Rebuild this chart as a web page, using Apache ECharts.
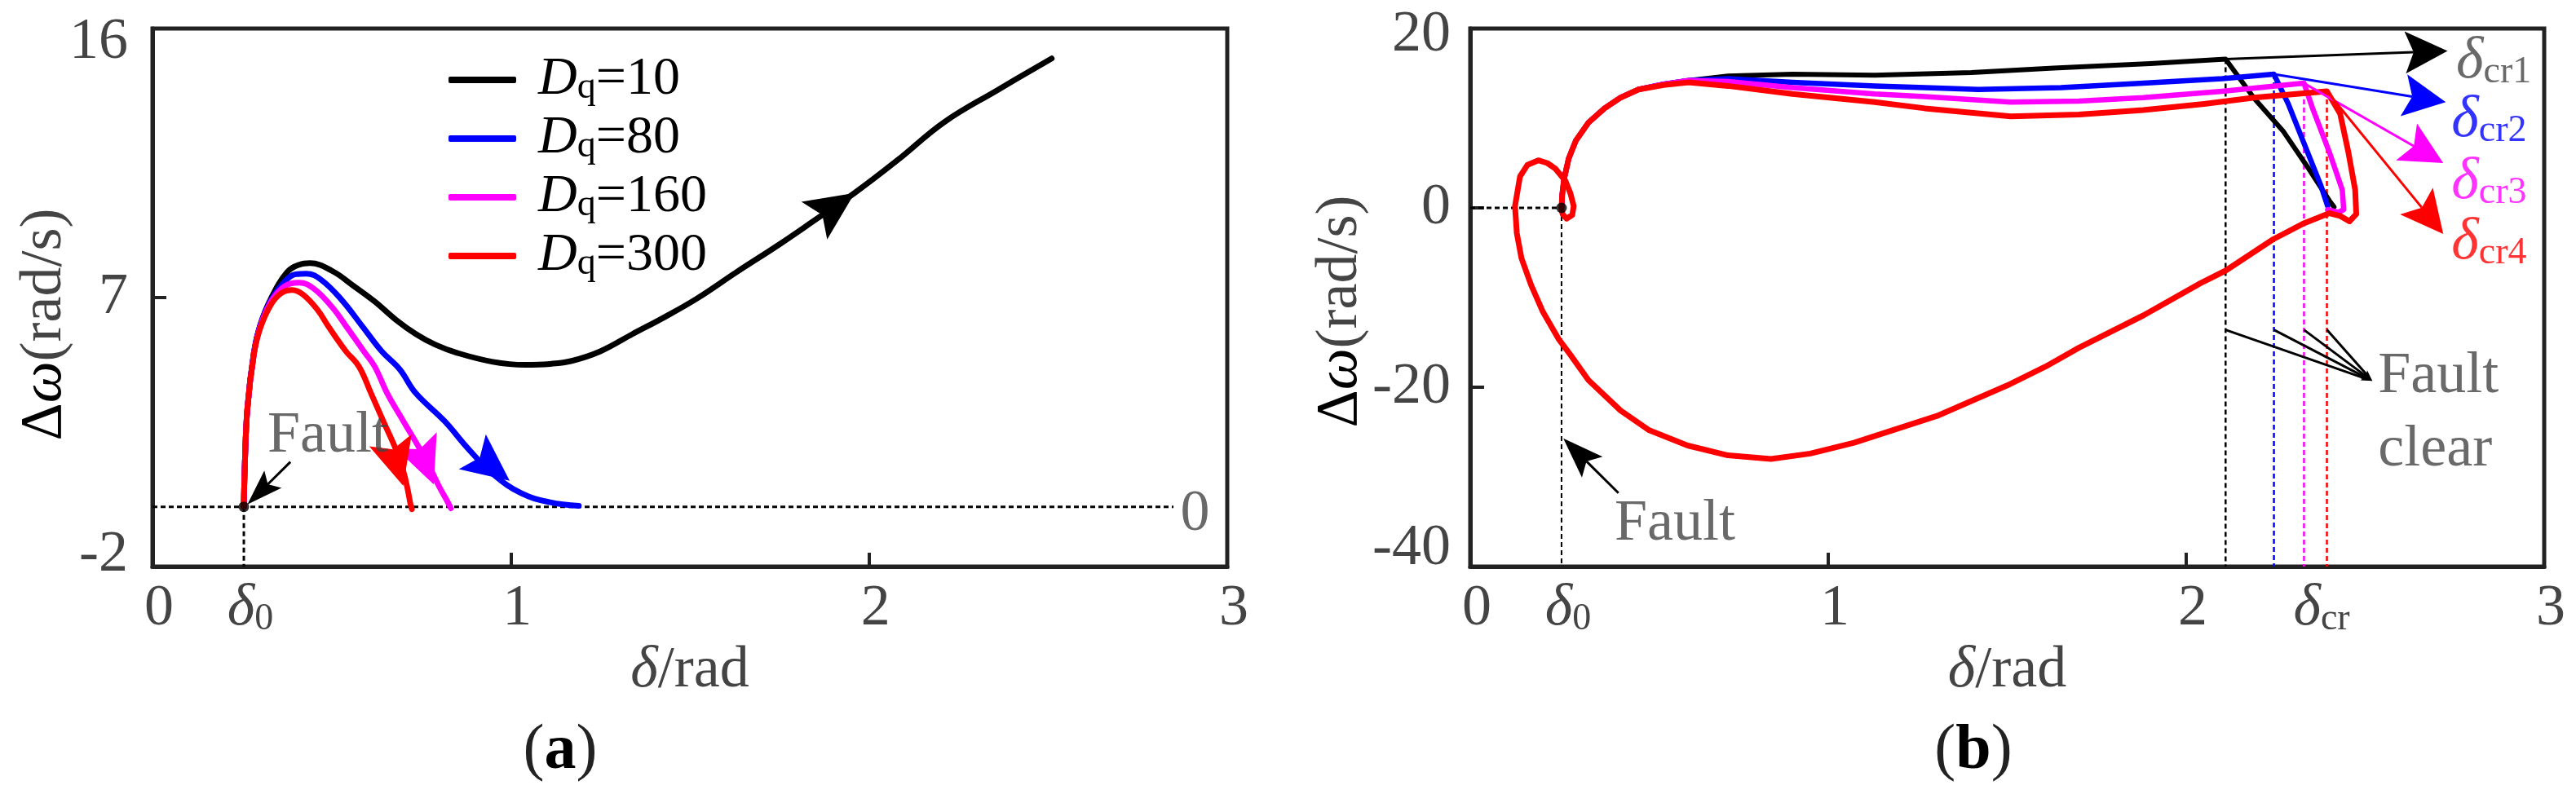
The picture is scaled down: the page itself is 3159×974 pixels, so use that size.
<!DOCTYPE html>
<html><head><meta charset="utf-8">
<script src="https://cdn.jsdelivr.net/npm/echarts@6/dist/echarts.min.js"></script>
<style>html,body{margin:0;padding:0;background:#fff}#c{width:3159px;height:974px}</style>
</head><body><div id="c"></div>
<script>
// ---------- data ----------
const D0 = 0.255;
const DCR = [2.11, 2.245, 2.329, 2.393];
const DCR_W = [16.6, 14.9, 13.9, 13.0];
const DCR_LABEL = 2.36;
const xTickValues = [0, 1, 2, 3];
const xLabelsA = [0, D0, 1, 2, 3];
const xLabelsB = [0, D0, 1, 2, DCR_LABEL, 3];
const yTicksA = [-2, 7, 16];
const yTicksB = [-40, -20, 0, 20];
const legendNames = ['Dq=10', 'Dq=80', 'Dq=160', 'Dq=300'];

const a_Dq10 = [[0.255,0],[0.258,1.5],[0.265,3.3],[0.283,5.15],[0.30,6.05],[0.33,6.95],[0.376,7.85],[0.41,8.1],[0.44,8.15],[0.503,7.88],[0.56,7.4],[0.62,6.87],[0.68,6.25],[0.735,5.78],[0.79,5.42],[0.85,5.15],[0.95,4.85],[1.04,4.75],[1.11,4.78],[1.17,4.88],[1.25,5.2],[1.34,5.78],[1.43,6.35],[1.52,6.97],[1.63,7.85],[1.75,8.78],[1.86,9.68],[1.96,10.5],[2.08,11.6],[2.21,12.87],[2.36,13.95],[2.51,15.0]];
const a_Dq80 = [[0.255,0],[0.258,1.5],[0.265,3.3],[0.283,5.15],[0.30,6.05],[0.33,6.9],[0.37,7.55],[0.40,7.78],[0.43,7.8],[0.47,7.6],[0.526,6.95],[0.585,6.05],[0.64,5.2],[0.69,4.6],[0.735,3.8],[0.815,2.87],[0.88,1.96],[0.95,1.1],[1.03,0.45],[1.11,0.15],[1.19,0.03]];
const a_Dq160 = [[0.255,0],[0.258,1.5],[0.265,3.3],[0.283,5.1],[0.30,6.0],[0.33,6.85],[0.36,7.3],[0.385,7.47],[0.41,7.5],[0.45,7.3],[0.50,6.7],[0.54,6.05],[0.59,5.2],[0.62,4.7],[0.655,3.8],[0.70,2.87],[0.745,1.96],[0.775,1.3],[0.80,0.68],[0.82,0.25],[0.833,-0.05]];
const a_Dq300 = [[0.255,0],[0.258,1.5],[0.265,3.3],[0.283,5.1],[0.30,5.95],[0.33,6.75],[0.36,7.15],[0.39,7.25],[0.42,7.1],[0.46,6.6],[0.49,6.05],[0.54,5.2],[0.576,4.7],[0.61,3.8],[0.644,2.87],[0.678,1.96],[0.70,1.2],[0.712,0.6],[0.72,0.1],[0.724,-0.08]];

const b_Dq10 = [[0.255,0],[0.257,1.5],[0.262,3.2],[0.275,5.5],[0.295,7.5],[0.33,9.5],[0.375,11.1],[0.42,12.3],[0.47,13.2],[0.54,13.8],[0.61,14.2],[0.72,14.7],[0.9,14.9],[1.13,14.8],[1.4,15.1],[1.63,15.6],[1.9,16.1],[2.11,16.6],[2.19,12.2],[2.27,8.6],[2.34,4.5],[2.40,0.8],[2.413,0.1]];
const b_Dq80 = [[0.255,0],[0.257,1.5],[0.262,3.2],[0.275,5.5],[0.295,7.5],[0.33,9.5],[0.375,11.1],[0.42,12.3],[0.47,13.2],[0.54,13.8],[0.61,14.2],[0.72,14.4],[0.9,14.0],[1.13,13.6],[1.27,13.4],[1.42,13.2],[1.65,13.4],[1.88,13.9],[2.1,14.4],[2.245,14.9],[2.285,11.6],[2.33,7.1],[2.376,2.5],[2.395,0.2]];
const b_Dq160 = [[0.255,0],[0.257,1.5],[0.262,3.2],[0.275,5.5],[0.295,7.5],[0.33,9.5],[0.375,11.1],[0.42,12.3],[0.47,13.2],[0.54,13.8],[0.61,14.2],[0.72,14.1],[0.9,13.4],[1.13,12.7],[1.27,12.4],[1.51,11.8],[1.7,11.9],[1.88,12.3],[2.1,13.0],[2.329,13.9],[2.353,11.1],[2.40,6.2],[2.436,2.0],[2.44,-0.2],[2.425,-0.5],[2.395,-0.2]];
const b_Dq300 = [[0.255,0],[0.257,1.5],[0.262,3.2],[0.275,5.5],[0.295,7.5],[0.33,9.5],[0.375,11.1],[0.42,12.3],[0.47,13.2],[0.54,13.7],[0.61,14.0],[0.72,13.6],[0.9,12.7],[1.13,11.8],[1.27,11.1],[1.51,10.2],[1.7,10.4],[1.88,10.9],[2.05,11.6],[2.19,12.3],[2.393,13.0],[2.43,10.5],[2.453,6.2],[2.472,2.0],[2.475,-0.7],[2.456,-1.5],[2.43,-0.9],[2.40,-0.6],[2.33,-1.7],[2.243,-3.5],[2.11,-7.0],[2.04,-8.4],[1.88,-12.0],[1.70,-15.6],[1.607,-17.7],[1.50,-19.8],[1.304,-23.2],[1.072,-26.2],[0.95,-27.4],[0.84,-28.0],[0.72,-27.6],[0.607,-26.5],[0.50,-24.8],[0.42,-22.6],[0.33,-19.2],[0.28,-16.4],[0.248,-14.7],[0.203,-11.6],[0.17,-8.6],[0.143,-5.6],[0.13,-2.8],[0.125,0.2],[0.139,3.5],[0.16,4.8],[0.19,5.3],[0.215,5.0],[0.237,4.4],[0.266,3.0],[0.28,1.6],[0.289,0.2],[0.285,-0.8],[0.269,-1.2],[0.258,-0.7],[0.255,-0.2]];

// arrows: [fromX, fromY, toX, toY]
const arrowsA = [[1.75,8.78,1.96,10.5],[0.88,1.96,0.997,0.87],[0.745,1.96,0.785,0.75],[0.66,2.4,0.70,0.70],[0.385,1.5,0.265,0.08]];
const arrowsB = [[2.11,16.6,2.73,17.5],[2.245,14.9,2.725,11.8],[2.329,13.9,2.718,5.0],[2.393,13.0,2.718,-2.9],[0.414,-31.8,0.26,-25.7],[2.11,-13.6,2.52,-19.3],[2.245,-13.6,2.52,-19.3],[2.329,-13.6,2.52,-19.3],[2.393,-13.6,2.52,-19.3]];

// ---------- styles ----------
const F = '"Liberation Serif", "Times New Roman", serif';
const COLORS = ['#000000', '#0000ff', '#ff00ff', '#ff0000'];
const GRAY = '#444444';
const arrowStyleA = [
  {color:COLORS[0], shaft:0, head:60, width:56},
  {color:COLORS[1], shaft:0, head:58, width:54},
  {color:COLORS[2], shaft:0, head:58, width:54},
  {color:COLORS[3], shaft:0, head:58, width:54},
  {color:'#000', shaft:3, head:44, width:30}
];
const arrowStyleB = [
  {color:COLORS[0], shaft:3, head:52, width:52},
  {color:COLORS[1], shaft:3, head:52, width:52},
  {color:COLORS[2], shaft:3, head:52, width:52},
  {color:COLORS[3], shaft:3, head:52, width:52},
  {color:'#000', shaft:3, head:50, width:36},
  {color:'#000', shaft:3, head:14, width:8},
  {color:'#000', shaft:3, head:14, width:8},
  {color:'#000', shaft:3, head:14, width:8},
  {color:'#000', shaft:3, head:14, width:8}
];

const base = {fontFamily:F, fontSize:72, lineHeight:72, color:GRAY};
const tickRich = {
  n: Object.assign({}, base),
  d: Object.assign({}, base, {fontStyle:'italic'}),
  s: Object.assign({}, base, {fontSize:46, lineHeight:36, verticalAlign:'bottom'}),
  topA: Object.assign({}, base, {padding:[34,0,0,0]}),
  botA: Object.assign({}, base, {padding:[0,0,28,0]}),
  topB: Object.assign({}, base, {padding:[16,0,0,0]}),
  botB: Object.assign({}, base, {padding:[0,0,44,0]})
};
function colorRich(c) {
  return {
    d: Object.assign({}, base, {fontStyle:'italic', color:c}),
    s: Object.assign({}, base, {fontSize:46, lineHeight:36, verticalAlign:'bottom', color:c})
  };
}
const near = (a,b) => Math.abs(a-b) < 1e-6;

function xFormatter(v) {
  if (near(v, D0)) return '{d|δ}{s|0}';
  if (near(v, DCR_LABEL)) return '{d|δ}{s|cr}';
  return '{n|' + v + '}';
}
function makeX(gi, labels) {
  return {
    type:'value', gridIndex:gi, min:0, max:3,
    axisLine:{show:true, onZero:false, lineStyle:{color:'#222', width:5}},
    axisTick:{show:true, inside:true, length:17, customValues:xTickValues, lineStyle:{color:'#222', width:4}},
    axisLabel:{show:true, customValues:labels, formatter:xFormatter, margin:16, padding:[0,0,0,16], rich:tickRich, color:GRAY, fontFamily:F, fontSize:72},
    splitLine:{show:false},
    name:'{d|δ}{n|/rad}', nameLocation:'middle', nameGap:92, nameMoveOverlap:false,
    nameTextStyle:{rich:tickRich, color:GRAY, fontFamily:F, fontSize:72}
  };
}
function makeY(gi, min, max, ticks, margin, top, bot, gap, shift) {
  return {
    type:'value', gridIndex:gi, min:min, max:max,
    axisLine:{show:true, onZero:false, lineStyle:{color:'#222', width:5}},
    axisTick:{show:true, inside:true, length:17, customValues:ticks, lineStyle:{color:'#222', width:4}},
    axisLabel:{show:true, customValues:ticks, margin:margin, rich:tickRich, color:GRAY, fontFamily:F, fontSize:72,
      formatter: v => near(v,max) ? '{'+top+'|'+v+'}' : near(v,min) ? '{'+bot+'|'+v+'}' : '{n|'+v+'}'},
    splitLine:{show:false},
    name:'{b|Δ}{w|ω}{g|(rad/s)}', nameLocation:'middle', nameGap:gap, nameMoveOverlap:false,
    nameTextStyle:{fontFamily:F, fontSize:72, padding:[0,shift,0,0], rich:{
      b:{fontFamily:F, fontSize:72, color:'#000'},
      w:{fontFamily:F, fontSize:72, color:'#000', fontStyle:'italic'},
      g:{fontFamily:F, fontSize:72, color:GRAY}}}
  };
}

function arrowSeries(gi, defs, styles) {
  return {
    type:'custom', xAxisIndex:gi, yAxisIndex:gi, z:4, silent:true, clip:false,
    data: defs.map(a => a.slice()),
    renderItem: function (params, api) {
      const st = styles[params.dataIndex];
      const p0 = api.coord([api.value(0), api.value(1)]);
      const p1 = api.coord([api.value(2), api.value(3)]);
      const dx = p1[0]-p0[0], dy = p1[1]-p0[1];
      const len = Math.hypot(dx, dy) || 1;
      const ux = dx/len, uy = dy/len, nx = -uy, ny = ux;
      const L = st.head, W = st.width/2, N = L*0.8;
      const bx = p1[0]-ux*L, by = p1[1]-uy*L;
      const children = [];
      if (st.shaft) children.push({type:'line', shape:{x1:p0[0], y1:p0[1], x2:p1[0]-ux*N, y2:p1[1]-uy*N}, style:{stroke:st.color, lineWidth:st.shaft}});
      children.push({type:'polygon', shape:{points:[[p1[0],p1[1]],[bx+nx*W,by+ny*W],[p1[0]-ux*N,p1[1]-uy*N],[bx-nx*W,by-ny*W]]}, style:{fill:st.color}});
      return {type:'group', children};
    }
  };
}
function curve(name, gi, data, color, w) {
  return {name, type:'line', xAxisIndex:gi, yAxisIndex:gi, data, symbol:'none', showSymbol:false,
    smooth: gi === 0 ? 0.4 : false, lineStyle:{color, width:w, cap:'round', join:'round'}, itemStyle:{color}, z:3, silent:true};
}
function dashed(gi, data, color, w) {
  return {type:'line', xAxisIndex:gi, yAxisIndex:gi, data, symbol:'none', silent:true, z:2,
    lineStyle:{color, width:w, type:[6,4]}};
}
function textSeries(gi, items) {
  return {type:'scatter', xAxisIndex:gi, yAxisIndex:gi, symbol:'circle', symbolSize:1,
    itemStyle:{color:'rgba(255,255,255,0)'}, silent:true, z:6,
    label:{show:true, position:'inside', fontFamily:F, fontSize:72, lineHeight:72, color:GRAY, rich:tickRich},
    labelLayout:{hideOverlap:false},
    data:items};
}

const chart = echarts.init(document.getElementById('c'));
chart.setOption({
  animation:false,
  backgroundColor:'#fff',
  textStyle:{fontFamily:F},
  grid:[
    {left:187, top:35, width:1318, height:660, show:true, borderColor:'#222', borderWidth:5, backgroundColor:'transparent', outerBoundsMode:'none'},
    {left:1803, top:35, width:1317, height:660, show:true, borderColor:'#222', borderWidth:5, backgroundColor:'transparent', outerBoundsMode:'none'}
  ],
  xAxis:[makeX(0, xLabelsA), makeX(1, xLabelsB)],
  yAxis:[makeY(0, -2, 16, yTicksA, 30, 'topA', 'botA', 96, 66), makeY(1, -40, 20, yTicksB, 24, 'topB', 'botB', 123, 34)],
  legend:{
    data:legendNames, orient:'vertical', left:545, top:60, itemWidth:83, itemHeight:8, itemGap:6, icon:'roundRect',
    selectedMode:false,
    formatter: n => '{i|D}{s|q}{n|' + n.slice(2) + '}',
    textStyle:{fontFamily:F, fontSize:66, lineHeight:66, color:'#000', padding:[0,0,0,22], rich:{
      i:{fontFamily:F, fontSize:66, lineHeight:66, color:'#000', fontStyle:'italic'},
      s:{fontFamily:F, fontSize:46, lineHeight:34, color:'#000', verticalAlign:'bottom'},
      n:{fontFamily:F, fontSize:66, lineHeight:66, color:'#000'}}}
  },
  graphic:[
    {type:'text', x:687, y:922, style:{text:'{p|(}{b|a}{p|)}', textAlign:'center', textVerticalAlign:'middle', rich:{
      p:{fontFamily:F, fontSize:78, fill:'#222'}, b:{fontFamily:F, fontSize:78, fontWeight:'bold', fill:'#000'}}}},
    {type:'text', x:2420, y:922, style:{text:'{p|(}{b|b}{p|)}', textAlign:'center', textVerticalAlign:'middle', rich:{
      p:{fontFamily:F, fontSize:78, fill:'#222'}, b:{fontFamily:F, fontSize:78, fontWeight:'bold', fill:'#000'}}}}
  ],
  series:[
    // panel a guides
    dashed(0, [[0,0],[2.85,0]], '#000', 3),
    dashed(0, [[D0,0],[D0,-2]], '#000', 3),
    // panel a curves
    curve(legendNames[0], 0, a_Dq10, COLORS[0], 7),
    curve(legendNames[1], 0, a_Dq80, COLORS[1], 7),
    curve(legendNames[2], 0, a_Dq160, COLORS[2], 7),
    curve(legendNames[3], 0, a_Dq300, COLORS[3], 7),
    arrowSeries(0, arrowsA, arrowStyleA),
    {type:'scatter', xAxisIndex:0, yAxisIndex:0, data:[[D0,0]], symbolSize:13, itemStyle:{color:'#000'}, z:7, silent:true},
    textSeries(0, [
      {value:[0.321, 2.35], label:{formatter:'Fault', align:'left'}},
      {value:[2.91, -0.27], label:{formatter:'0', align:'center'}}
    ]),
    // panel b guides
    dashed(1, [[0,0],[D0,0]], '#000', 3),
    dashed(1, [[D0,0],[D0,-40]], '#000', 2),
    dashed(1, [[DCR[0],DCR_W[0]],[DCR[0],-40]], COLORS[0], 2.5),
    dashed(1, [[DCR[1],DCR_W[1]],[DCR[1],-40]], COLORS[1], 2.5),
    dashed(1, [[DCR[2],DCR_W[2]],[DCR[2],-40]], COLORS[2], 2.5),
    dashed(1, [[DCR[3],DCR_W[3]],[DCR[3],-40]], COLORS[3], 2.5),
    // panel b curves
    curve('b' + legendNames[0], 1, b_Dq10, COLORS[0], 6),
    curve('b' + legendNames[1], 1, b_Dq80, COLORS[1], 6.5),
    curve('b' + legendNames[2], 1, b_Dq160, COLORS[2], 6.5),
    curve('b' + legendNames[3], 1, b_Dq300, COLORS[3], 7),
    arrowSeries(1, arrowsB, arrowStyleB),
    {type:'scatter', xAxisIndex:1, yAxisIndex:1, data:[[D0,0]], symbolSize:13, itemStyle:{color:'#000'}, z:7, silent:true},
    textSeries(1, [
      {value:[0.403, -35.3], label:{formatter:'Fault', align:'left'}},
      {value:[2.536, -22.9], label:{formatter:'Fault\nclear', align:'left', lineHeight:90}},
      {value:[2.754, 16.3], label:{formatter:'{d|δ}{s|cr1}', align:'left', rich:colorRich(GRAY)}},
      {value:[2.741, 9.7], label:{formatter:'{d|δ}{s|cr2}', align:'left', rich:colorRich(COLORS[1])}},
      {value:[2.741, 2.8], label:{formatter:'{d|δ}{s|cr3}', align:'left', rich:colorRich(COLORS[2])}},
      {value:[2.741, -3.9], label:{formatter:'{d|δ}{s|cr4}', align:'left', rich:colorRich(COLORS[3])}}
    ])
  ]
});
</script></body></html>
